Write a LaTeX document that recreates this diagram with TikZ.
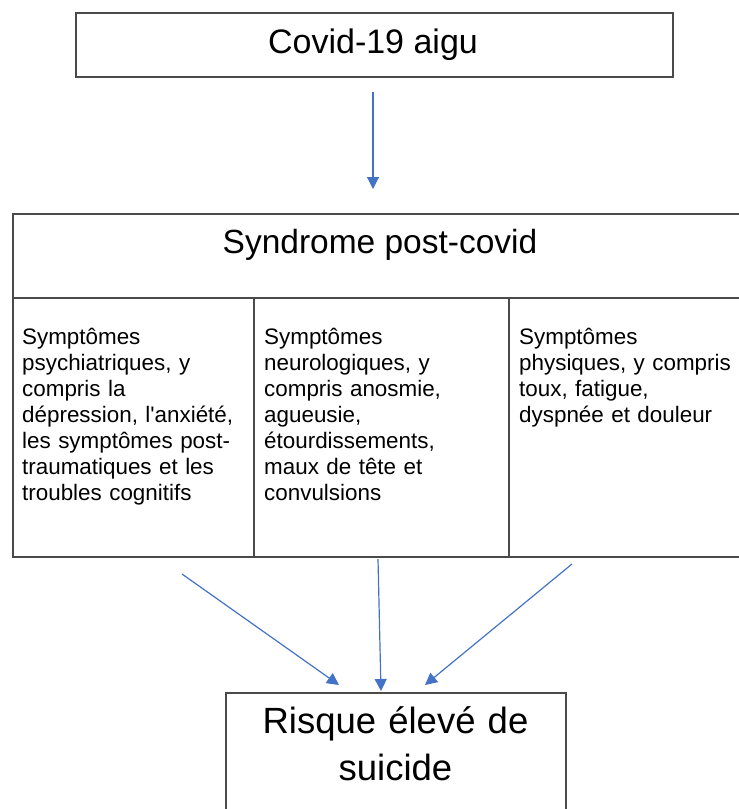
\documentclass[tikz,border=0pt]{standalone}
\usepackage{fontspec}
\newfontfamily\arialf{Liberation Sans}[Ligatures=TeXOff]
\usetikzlibrary{arrows.meta}
\definecolor{boxline}{HTML}{4A4A4A}
\definecolor{arrowblue}{HTML}{4472C4}
\begin{document}
\begin{tikzpicture}[x=1pt,y=-1pt,
  frame/.style={draw=boxline, line width=1.6pt, rectangle, inner sep=0pt, anchor=north west},
  conn/.style={draw=arrowblue, line width=1.2pt, -{Triangle[length=12pt,width=12pt]}},
  coltext/.style={anchor=base west, inner sep=0pt, text width=232pt, align=left, font=\arialf\fontsize{22.4}{26}\selectfont},
  bigtext/.style={anchor=base, inner sep=0pt, font=\arialf\fontsize{34}{40}\selectfont}
]
\useasboundingbox (0,0) rectangle (739,809);

% boxes
\node[frame, minimum width=597pt, minimum height=64pt] (acute) at (75,12) {};
\node[bigtext] (acutetext) at (373,53) {Covid-19 aigu};

\node[frame, minimum width=740pt, minimum height=84pt] (post) at (12,213) {};
\node[bigtext, font=\arialf\fontsize{33.5}{40}\selectfont] (posttext) at (380,253) {Syndrome post-covid};

\node[frame, minimum width=241pt, minimum height=259pt] (psy) at (12,297) {};
\node[frame, minimum width=255pt, minimum height=259pt] (neuro) at (253,297) {};
\node[frame, minimum width=245pt, minimum height=259pt] (phys) at (508,297) {};

\node[coltext] (psytext) at (22,344) {Symptômes\\psychiatriques, y\\compris la\\dépression, l'anxiété,\\les symptômes post-\\traumatiques et les\\troubles cognitifs};
\node[coltext] (neurotext) at (264,344) {Symptômes\\neurologiques, y\\compris anosmie,\\agueusie,\\étourdissements,\\maux de tête et\\convulsions};
\node[coltext, text width=225pt] (phystext) at (519,344) {Symptômes\\physiques, y compris\\toux, fatigue,\\dyspnée et douleur};

\node[frame, minimum width=340pt, minimum height=140pt] (risk) at (225,692) {};
\node[anchor=base, inner sep=0pt, text width=330pt, align=center, font=\arialf\fontsize{36.5}{47}\selectfont] (risktext) at (395.5,733) {Risque élevé de\\suicide};

% connectors
\coordinate (a0) at (373,92);
\coordinate (a1) at (373,189);
\coordinate (l0) at (182,574);
\coordinate (l1) at (339,685);
\coordinate (m0) at (378,559);
\coordinate (m1) at (381,691);
\coordinate (r0) at (572,564);
\coordinate (r1) at (425,685);

\draw[conn] (a0) -- (a1);
\draw[conn] (l0) -- (l1);
\draw[conn] (m0) -- (m1);
\draw[conn] (r0) -- (r1);
\end{tikzpicture}
\end{document}
